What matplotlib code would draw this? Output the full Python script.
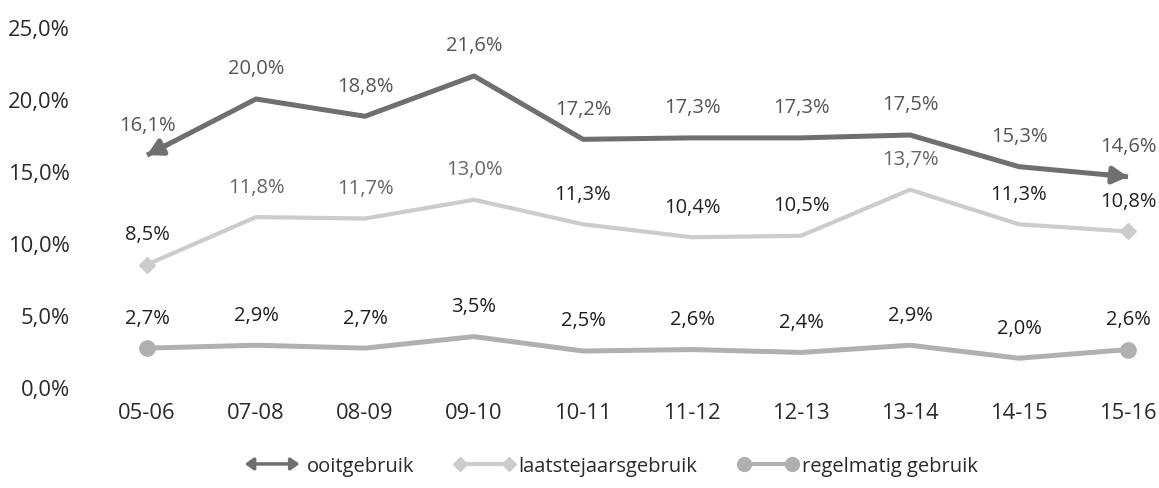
import matplotlib
matplotlib.use("Agg")
import matplotlib.pyplot as plt
from matplotlib.lines import Line2D
from matplotlib.patches import FancyArrowPatch
from matplotlib.legend_handler import HandlerBase
from matplotlib.ticker import FuncFormatter

categories = ["05-06", "07-08", "08-09", "09-10", "10-11", "11-12", "12-13", "13-14", "14-15", "15-16"]
ooitgebruik = [16.1, 20.0, 18.8, 21.6, 17.2, 17.3, 17.3, 17.5, 15.3, 14.6]
laatstejaarsgebruik = [8.5, 11.8, 11.7, 13.0, 11.3, 10.4, 10.5, 13.7, 11.3, 10.8]
regelmatig_gebruik = [2.7, 2.9, 2.7, 3.5, 2.5, 2.6, 2.4, 2.9, 2.0, 2.6]
series_names = ["ooitgebruik", "laatstejaarsgebruik", "regelmatig gebruik"]
y_ticks = [0, 5, 10, 15, 20, 25]

plt.rcParams['font.family'] = ['Open Sans', 'DejaVu Sans']

C_OOIT = "#6f6f6f"
C_LAAT = "#cccccc"
C_REG = "#b0b0b0"
LBL_OOIT = "#555555"
LBL_LAAT = ["#222222", "#666666", "#666666", "#666666", "#222222", "#222222", "#222222", "#666666", "#222222", "#222222"]
LBL_REG = "#1e1e1e"
FS = 14.5
FS_TICK = 15.8

fig = plt.figure(figsize=(11.59, 4.89), dpi=100)
W, H = 1159, 489
x0_px, x1_px = 92, 1150
y0_px, y1_px = 388, 28
ax = fig.add_axes([x0_px / W, 1 - y0_px / H, (x1_px - x0_px) / W, (y0_px - y1_px) / H])

xs = list(range(len(categories)))
step = 109.0
ax.set_xlim(-(147 - x0_px) / step, 9 + (x1_px - 1128) / step)
ax.set_ylim(0, 25)

fmt = lambda v: f"{v:.1f}".replace(".", ",") + "%"

# lines
ax.plot(xs, ooitgebruik, color=C_OOIT, lw=3.6, solid_capstyle='butt', zorder=3)
ax.plot(xs, laatstejaarsgebruik, color=C_LAAT, lw=3.0, zorder=3)
ax.plot(xs, regelmatig_gebruik, color=C_REG, lw=3.6, zorder=3)

# arrows on ooitgebruik ends
for a, b in [(1, 0), (8, 9)]:
    xa = xs[b] + (xs[a] - xs[b]) * 0.2
    ya = ooitgebruik[b] + (ooitgebruik[a] - ooitgebruik[b]) * 0.2
    ax.annotate("", xy=(xs[b], ooitgebruik[b]), xytext=(xa, ya),
                arrowprops=dict(arrowstyle="-|>,head_length=0.9,head_width=0.5",
                                color=C_OOIT, lw=3.6, shrinkA=0, shrinkB=0), zorder=4)

# end markers
ax.plot([xs[0], xs[-1]], [laatstejaarsgebruik[0], laatstejaarsgebruik[-1]], ls='none',
        marker='D', ms=8, color=C_LAAT, zorder=4)
ax.plot([xs[0], xs[-1]], [regelmatig_gebruik[0], regelmatig_gebruik[-1]], ls='none',
        marker='o', ms=11, color=C_REG, zorder=4)

# data labels
for i, x in enumerate(xs):
    ax.annotate(fmt(ooitgebruik[i]), (x, ooitgebruik[i]), xytext=(0, 22), textcoords='offset points',
                ha='center', va='center', fontsize=FS, color=LBL_OOIT)
    ax.annotate(fmt(laatstejaarsgebruik[i]), (x, laatstejaarsgebruik[i]), xytext=(0, 22),
                textcoords='offset points', ha='center', va='center', fontsize=FS, color=LBL_LAAT[i])
    ax.annotate(fmt(regelmatig_gebruik[i]), (x, regelmatig_gebruik[i]), xytext=(0, 22),
                textcoords='offset points', ha='center', va='center', fontsize=FS, color=LBL_REG)

ax.set_xticks(xs)
ax.set_xticklabels(categories)
ax.set_yticks(y_ticks)
ax.yaxis.set_major_formatter(FuncFormatter(lambda v, p: fmt(v)))
ax.tick_params(axis='both', length=0, labelsize=FS_TICK, labelcolor="#2a2a2a")
ax.tick_params(axis='x', pad=11)
ax.tick_params(axis='y', pad=16)
for s in ax.spines.values():
    s.set_visible(False)


class ArrowHandler(HandlerBase):
    def create_artists(self, legend, orig_handle, xdescent, ydescent, width, height, fontsize, trans):
        y = height / 2 - ydescent
        p = FancyArrowPatch((-xdescent, y), (width - xdescent, y),
                            arrowstyle="<|-|>,head_length=5,head_width=3.5",
                            color=C_OOIT, lw=2.5, mutation_scale=1, transform=trans)
        return [p]


class ArrowDummy(Line2D):
    pass


h_ooit = ArrowDummy([0], [0], color=C_OOIT)
h_laat = Line2D([0], [0], color=C_LAAT, lw=3, marker='D', ms=7)
h_reg = Line2D([0], [0], color=C_REG, lw=3, marker='o', ms=10)
leg = fig.legend([h_ooit, h_laat, h_reg], series_names, loc='center',
                 bbox_to_anchor=(610 / W, 1 - 467 / H),
                 ncol=3, frameon=False, fontsize=FS, numpoints=2, handlelength=3.0,
                 columnspacing=2.0, handletextpad=0.2, labelcolor="#2a2a2a",
                 handler_map={ArrowDummy: ArrowHandler()})

fig.savefig("out.png", dpi=100)
